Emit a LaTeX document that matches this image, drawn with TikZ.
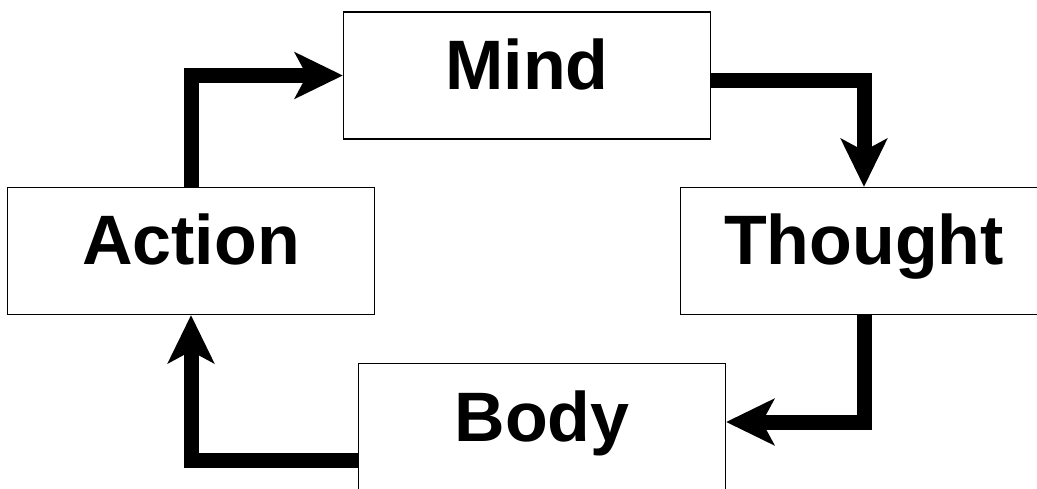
\documentclass[tikz,border=0pt]{standalone}
\usepackage{fontspec}
\setmainfont{Liberation Sans}
\usetikzlibrary{arrows.meta}

\tikzset{
  stage/.style={draw, line width=1.2pt, minimum width=367pt, minimum height=127pt,
    inner sep=0pt, text height=50pt, text depth=22pt,
    font=\fontsize{70pt}{84pt}\selectfont\bfseries},
  flow/.style={line width=15pt, line join=miter,
    -{Stealth[length=48pt, width=46pt, inset=12pt]}}
}

\begin{document}
\begin{tikzpicture}[x={(1pt, 0pt)}, y={(0pt, -1pt)}]
  \useasboundingbox (0, 0) rectangle (1037, 489);
  \clip (0, 0) rectangle (1037, 489);

  \node[stage] (mind) at (527, 75.5) {Mind};
  \node[stage] (action) at (191, 251) {Action};
  \node[stage] (thought) at (864, 251) {Thought};
  \node[stage] (body) at (542, 427) {Body};

  \draw[flow] (action.north) |- (mind.west);
  \draw[flow] ([yshift=-5pt]mind.east) -| (thought.north);
  \draw[flow] (thought.south) |- ([yshift=5pt]body.east);
  \draw[flow] ([yshift=-33pt]body.west) -| (action.south);
\end{tikzpicture}
\end{document}
